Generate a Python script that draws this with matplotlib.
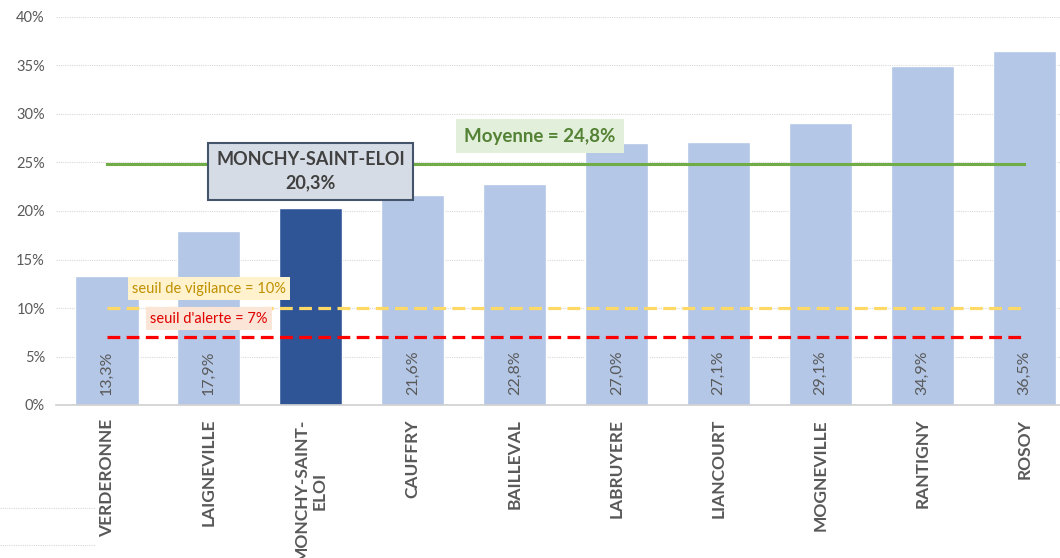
import matplotlib
matplotlib.use('Agg')
import matplotlib.pyplot as plt
from matplotlib.lines import Line2D

# data
communes = ["VERDERONNE", "LAIGNEVILLE", "MONCHY-SAINT-\nELOI", "CAUFFRY",
            "BAILLEVAL", "LABRUYERE", "LIANCOURT", "MOGNEVILLE",
            "RANTIGNY", "ROSOY"]
taux = [13.3, 17.9, 20.3, 21.6, 22.8, 27.0, 27.1, 29.1, 34.9, 36.5]
highlight = 2
moyenne = 24.8
seuil_vigilance = 10
seuil_alerte = 7
yticks = [0, 5, 10, 15, 20, 25, 30, 35, 40]

GRAY = '#595959'
BAR = '#b4c7e7'
BAR_HI = '#2f5597'

plt.rcParams['font.family'] = ['Lato', 'DejaVu Sans']

fig = plt.figure(figsize=(10.6, 5.58), dpi=100)
ax = fig.add_axes([56 / 1060, 153 / 558, 1004 / 1060, 388 / 558])

x = list(range(len(communes)))
colors = [BAR_HI if i == highlight else BAR for i in x]
ax.bar(x, taux, width=0.62, color=colors, edgecolor='white', linewidth=1, zorder=2)

# reference lines from first to last bar centre
ax.plot(x, [moyenne] * len(x), color='#70ad47', linewidth=2.2, zorder=3)
ax.plot(x, [seuil_vigilance] * len(x), color='#ffd966', linewidth=2.3,
        linestyle=(0, (4, 2)), zorder=3)
ax.plot(x, [seuil_alerte] * len(x), color='#ff0000', linewidth=2.3,
        linestyle=(0, (4, 2)), zorder=3)

# value labels inside bars (the highlighted one has none)
for i, v in enumerate(taux):
    if i == highlight:
        continue
    ax.text(i, 1.0, f"{v:.1f}%".replace('.', ','), rotation=90,
            ha='center', va='bottom', fontsize=11.5, color=GRAY, zorder=4)

ax.set_xlim(-0.5, 9.35)
ax.set_ylim(0, 40)
ax.set_yticks(yticks)
ax.set_yticklabels([f"{t}%" for t in yticks], fontsize=10.5, color=GRAY)
ax.set_xticks(x)
ax.set_xticklabels(communes, rotation=90, fontsize=12.5, fontweight='bold',
                   color=GRAY, multialignment='center', va='top')
ax.tick_params(axis='both', length=0)
ax.tick_params(axis='x', pad=10)
ax.tick_params(axis='y', pad=8)

ax.grid(axis='y', color='#d9d9d9', linestyle=(0, (1, 1)), linewidth=0.8, zorder=0)
for s in ['top', 'right', 'left']:
    ax.spines[s].set_visible(False)
ax.spines['bottom'].set_color('#d0d0d0')
ax.spines['bottom'].set_linewidth(1.2)
ax.spines['bottom'].set_zorder(3)

# annotation boxes
ax.text(1.0, 12.0, "seuil de vigilance = 10%", ha='center', va='center',
        fontsize=10.5, color='#bf9000', zorder=5,
        bbox=dict(boxstyle='square,pad=0.3', fc='#fff2cc', ec='none'))
ax.text(1.0, 8.9, "seuil d'alerte = 7%", ha='center', va='center',
        fontsize=10.5, color='#e00000', zorder=5,
        bbox=dict(boxstyle='square,pad=0.3', fc='#fbe5d6', ec='none'))
ax.text(4.25, 27.7, "Moyenne = 24,8%", ha='center', va='center',
        fontsize=13.5, fontweight='bold', color='#548235', zorder=5,
        bbox=dict(boxstyle='square,pad=0.45', fc='#e2efda', ec='none'))
ax.text(2.0, 24.1, "MONCHY-SAINT-ELOI\n20,3%", ha='center', va='center',
        fontsize=13, fontweight='bold', color='#404040', zorder=5,
        linespacing=1.45,
        bbox=dict(boxstyle='square,pad=0.45', fc='#d6dce5', ec='#44546a', lw=1.5))

# stray dotted lines at bottom left of the original screenshot
for yy in [508, 545]:
    fig.add_artist(Line2D([0, 95 / 1060], [1 - yy / 558] * 2, color='#d9d9d9',
                          linestyle=(0, (1, 1)), linewidth=0.8))

fig.savefig('out.png', dpi=100)
